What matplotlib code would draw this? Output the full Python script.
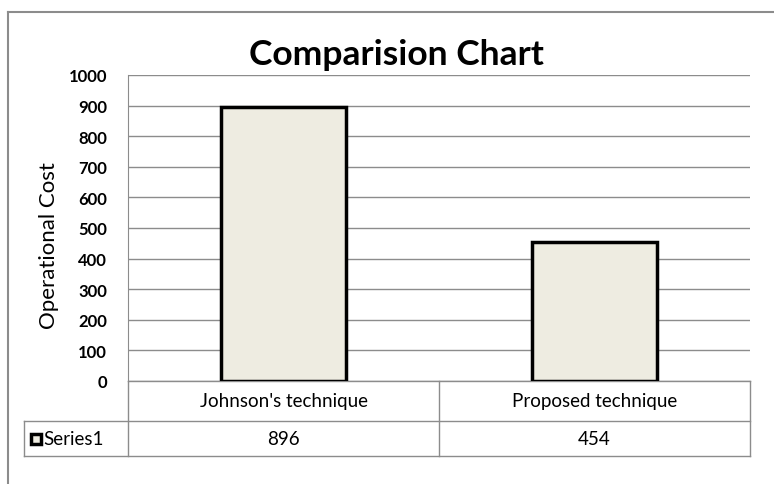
import matplotlib
matplotlib.use('Agg')
import matplotlib.pyplot as plt
from matplotlib.lines import Line2D
from matplotlib.patches import Rectangle

categories = ["Johnson's technique", "Proposed technique"]
values = [896, 454]
series_name = 'Series1'
yticks = list(range(0, 1001, 100))

plt.rcParams['font.family'] = ['Lato', 'DejaVu Sans']

fill = '#EEECE1'
grid = '#8C8C8C'

fig = plt.figure(figsize=(7.74, 4.85), dpi=100)
ax = fig.add_axes([128 / 774, 1 - 382 / 485, 622 / 774, 306 / 485])

x = list(range(len(categories)))
ax.bar(x, values, width=0.405, color=fill, edgecolor='black', linewidth=2.5, zorder=3)
ax.set_xlim(-0.5, len(categories) - 0.5)
ax.set_ylim(0, 1000)
ax.set_yticks(yticks)
ax.set_yticklabels([str(t) for t in yticks], fontsize=12, fontweight='bold')
ax.tick_params(axis='y', length=0, pad=15)
ax.set_xticks([])
ax.yaxis.grid(True, color=grid, linewidth=1)
for s in ['top', 'right', 'bottom']:
    ax.spines[s].set_visible(False)
ax.spines['left'].set_color(grid)

# y label and title
fig.text(49 / 774, 1 - 246 / 485, 'Operational Cost', rotation=90, ha='center', va='center',
         fontsize=16)
fig.text(396 / 774, 1 - 55 / 485, 'Comparision Chart', ha='center', va='center',
         fontsize=25.5, fontweight='bold')

# data table under the plot
t = ax.transAxes
r1 = -40 / 306
r2 = -75 / 306
xl = -104 / 622
lines = [
    ([0, 1], [0, 0]),
    ([xl, 1], [r1, r1]),
    ([xl, 1], [r2, r2]),
    ([0, 0], [0, r2]),
    ([0.5, 0.5], [0, r2]),
    ([1, 1], [0, r2]),
    ([xl, xl], [r1, r2]),
]
for xs, ys in lines:
    ax.add_line(Line2D(xs, ys, transform=t, color=grid, linewidth=1, clip_on=False))

for i, (c, v) in enumerate(zip(categories, values)):
    cx = (i + 0.5) / len(categories)
    ax.text(cx, r1 / 2, c, transform=t, ha='center', va='center', fontsize=13.5)
    ax.text(cx, (r1 + r2) / 2, str(v), transform=t, ha='center', va='center', fontsize=13.5)

ax.add_patch(Rectangle((-97 / 622, (r1 + r2) / 2 - 5 / 306), 10 / 622, 10 / 306,
                       transform=t, facecolor=fill, edgecolor='black', linewidth=2.5,
                       clip_on=False))
ax.text(-85 / 622, (r1 + r2) / 2, series_name, transform=t, ha='left', va='center',
        fontsize=13.5)

# outer chart frame
fig.add_artist(Line2D([8 / 774, 8 / 774], [0, 1 - 13 / 485], transform=fig.transFigure,
                      color='#8C8C8C', linewidth=1.5))
fig.add_artist(Line2D([8 / 774, 1], [1 - 13 / 485, 1 - 13 / 485], transform=fig.transFigure,
                      color='#8C8C8C', linewidth=1.5))

fig.savefig('out.png', dpi=100)
